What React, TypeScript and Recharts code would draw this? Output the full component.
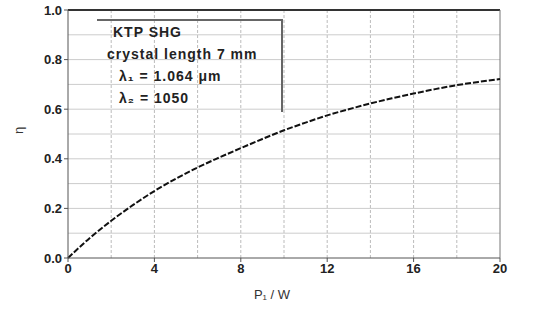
import React from 'react';
import { LineChart, Line, XAxis, YAxis, ReferenceLine, Label } from 'recharts';

const power = [0, 1, 2, 3, 4, 5, 6, 7, 8, 9, 10, 11, 12, 13, 14, 15, 16, 17, 18, 19, 20];
const efficiency = [0, 0.08, 0.15, 0.213, 0.27, 0.32, 0.365, 0.405, 0.443, 0.48, 0.515, 0.546, 0.575, 0.6, 0.623, 0.644, 0.663, 0.681, 0.697, 0.71, 0.722];

const xTicks = [0, 4, 8, 12, 16, 20];
const yTicks = [0, 0.2, 0.4, 0.6, 0.8, 1.0];
const xGrid = [2, 4, 6, 8, 10, 12, 14, 16, 18];
const yGrid = [0.1, 0.2, 0.3, 0.4, 0.5, 0.6, 0.7, 0.8, 0.9];

const legendLines = ['KTP SHG', 'crystal length 7 mm', 'λ₁ = 1.064 μm', 'λ₂ = 1050'];

const data = power.map((p, i) => ({ p, eta: efficiency[i] }));

const font = '"Liberation Sans", Arial, sans-serif';

export default function App() {
  return (
    <div style={{ position: 'absolute', left: 0, top: 0, width: 553, height: 323, background: '#fff', fontFamily: font }}>
      <LineChart width={553} height={323} data={data} margin={{ top: 10, right: 53, bottom: 35, left: 0 }}>
        {xGrid.map((v) => (
          <ReferenceLine key={'x' + v} x={v} stroke="#bbb" strokeDasharray="3 2" />
        ))}
        {yGrid.map((v) => (
          <ReferenceLine key={'y' + v} y={v} stroke="#ccc" />
        ))}
        <ReferenceLine y={1} stroke="#333" strokeWidth={2} />
        <ReferenceLine x={20} stroke="#777" />
        <XAxis
          dataKey="p"
          type="number"
          domain={[0, 20]}
          ticks={xTicks}
          height={30}
          stroke="#555"
          tickSize={4}
          tick={{ fill: '#222', fontSize: 13, fontWeight: 'bold', fontFamily: font }}
        >
          <Label value="P₁ / W" position="insideBottom" offset={-11} dx={-12} style={{ fill: '#333', fontSize: 13, fontFamily: font }} />
        </XAxis>
        <YAxis
          type="number"
          domain={[0, 1]}
          ticks={yTicks}
          width={68}
          stroke="#555"
          tickSize={4}
          tickFormatter={(v: number) => v.toFixed(1)}
          tick={{ fill: '#222', fontSize: 13, fontWeight: 'bold', fontFamily: font }}
        >
          <Label value="η" angle={-90} position="insideLeft" offset={18} style={{ fill: '#333', fontSize: 13, fontFamily: font }} />
        </YAxis>
        <Line
          dataKey="eta"
          type="monotone"
          stroke="#111"
          strokeWidth={2}
          strokeDasharray="6 2"
          dot={false}
          isAnimationActive={false}
        />
      </LineChart>
      <div
        style={{
          position: 'absolute',
          left: 97,
          top: 19,
          width: 186,
          height: 93,
          borderTop: '2px solid #666',
          borderRight: '2px solid #666',
          fontSize: 14,
          fontWeight: 'bold',
          color: '#222',
          lineHeight: '22px',
          letterSpacing: 1,
          boxSizing: 'border-box',
        }}
      >
        <div style={{ paddingLeft: 16 }}>{legendLines[0]}</div>
        <div style={{ paddingLeft: 10 }}>{legendLines[1]}</div>
        <div style={{ paddingLeft: 22 }}>{legendLines[2]}</div>
        <div style={{ paddingLeft: 22 }}>{legendLines[3]}</div>
      </div>
    </div>
  );
}
